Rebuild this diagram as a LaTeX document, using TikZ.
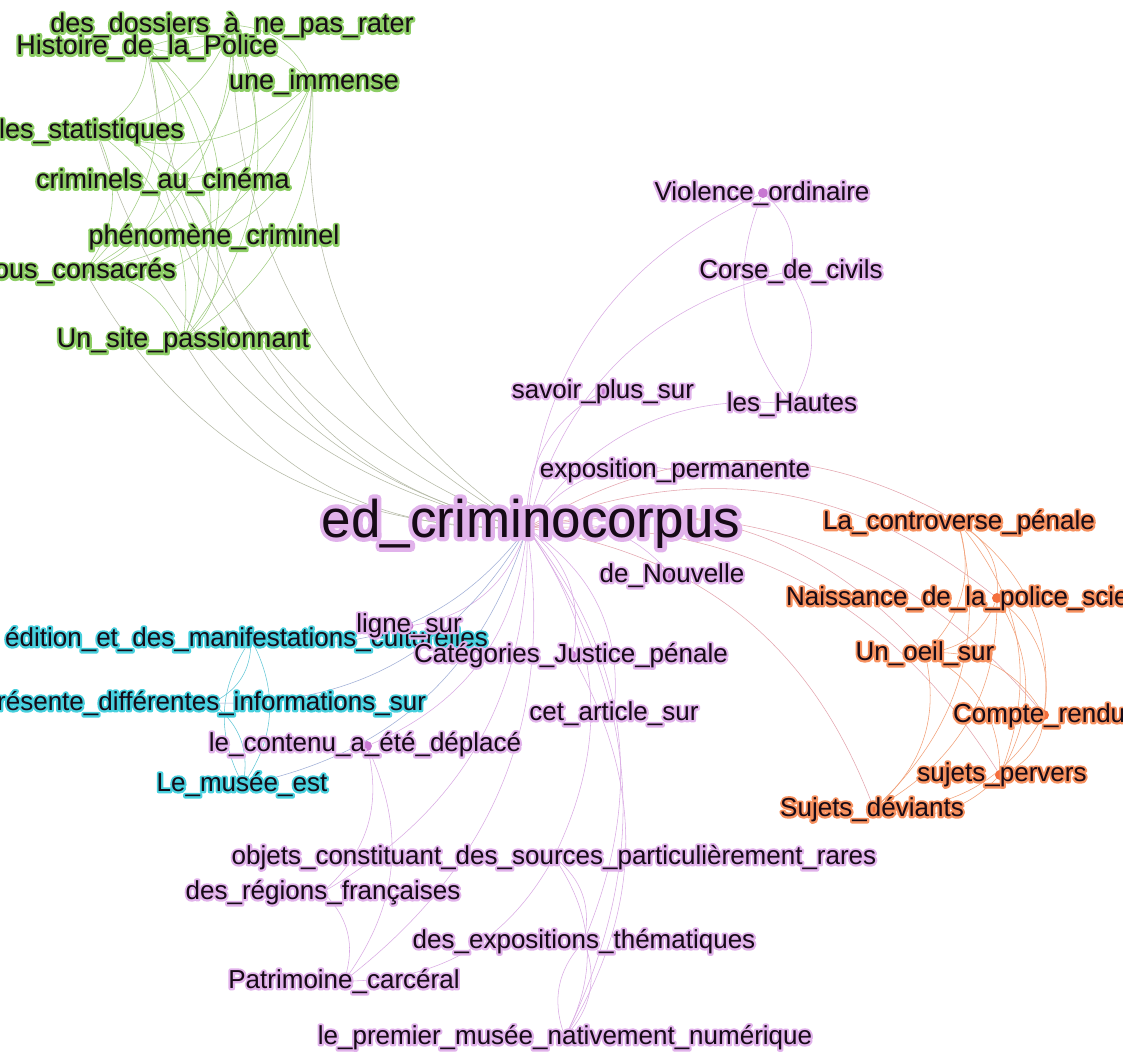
\documentclass[tikz,border=0pt]{standalone}
\usepackage{fontspec}
\setmainfont{Liberation Sans}
\newfontfamily\halofont[FakeBold=16]{Liberation Sans}
\newcommand\hl[2]{\rlap{\halofont\color{#1}#2}#2}
\usetikzlibrary{backgrounds}
\definecolor{txt}{RGB}{22,10,22}
\definecolor{gH}{RGB}{140,205,100}
\definecolor{pH}{RGB}{225,178,235}
\definecolor{oH}{RGB}{247,145,95}
\definecolor{cH}{RGB}{70,208,222}
\definecolor{gD}{RGB}{120,190,80}
\definecolor{pD}{RGB}{200,120,210}
\definecolor{oD}{RGB}{245,110,60}
\definecolor{cD}{RGB}{40,190,210}
\definecolor{gg}{RGB}{160,205,130}
\definecolor{ge}{RGB}{180,185,165}
\definecolor{pp}{RGB}{218,170,228}
\definecolor{po}{RGB}{228,165,175}
\definecolor{oo}{RGB}{242,160,120}
\definecolor{cc}{RGB}{100,200,215}
\definecolor{cp}{RGB}{160,175,215}
\tikzset{
  lab/.style={inner sep=0pt, text height=18.7pt, text depth=0pt, text=txt, font=\fontsize{26}{30}\selectfont},
  glab/.style={lab, text height=19.4pt, font=\fontsize{27}{31}\selectfont},
  blab/.style={lab, text height=38.2pt, font=\fontsize{53}{60}\selectfont},
  vdot/.style={circle, inner sep=0pt, minimum size=#1},
  lnk/.style={line width=0.55pt, draw=#1, bend left=30},
}
\begin{document}
\begin{tikzpicture}[x=1pt,y=-1pt,line join=round]
\useasboundingbox (0,0) rectangle (1123,1053);
\clip (0,0) rectangle (1123,1053);
% ---------- vertices (dots) ----------
\node[vdot=12pt, fill=pD] (ed) at (527,528) {};
\node[vdot=9pt, fill=gD] (gA) at (232,25) {};
\node[vdot=9pt, fill=gD] (gB) at (147,47) {};
\node[vdot=9pt, fill=gD] (gC) at (312,82) {};
\node[vdot=9pt, fill=gD] (gD) at (96,131) {};
\node[vdot=9pt, fill=gD] (gE) at (163,181) {};
\node[vdot=9pt, fill=gD] (gF) at (214,237) {};
\node[vdot=9pt, fill=gD] (gG) at (85,271) {};
\node[vdot=9pt, fill=gD] (gH) at (183,340) {};
\node[vdot=10pt, fill=pD] (pV) at (763,193) {};
\node[vdot=9pt, fill=pD] (pC) at (790,271) {};
\node[vdot=9pt, fill=pD] (pH) at (792,404) {};
\node[vdot=9pt, fill=pD] (pS) at (603,391) {};
\node[vdot=9pt, fill=pD] (pE) at (675,470) {};
\node[vdot=9pt, fill=pD] (pN) at (672,576) {};
\node[vdot=9pt, fill=pD] (pL) at (409,626) {};
\node[vdot=9pt, fill=pD] (pK) at (572,655) {};
\node[vdot=9pt, fill=pD] (pA) at (614,712) {};
\node[vdot=10pt, fill=pD] (pT) at (367,746) {};
\node[vdot=9pt, fill=pD] (pO) at (554,857) {};
\node[vdot=9pt, fill=pD] (pR) at (323,892) {};
\node[vdot=9pt, fill=pD] (pX) at (584,941) {};
\node[vdot=9pt, fill=pD] (pP) at (344,981) {};
\node[vdot=9pt, fill=pD] (pM) at (565,1037) {};
\node[vdot=9pt, fill=cD] (cE) at (251,639) {};
\node[vdot=9pt, fill=cD] (cR) at (212,703) {};
\node[vdot=9pt, fill=cD] (cM) at (243,785) {};
\node[vdot=10pt, fill=oD] (oL) at (958,522) {};
\node[vdot=10pt, fill=oD] (oN) at (997,598) {};
\node[vdot=10pt, fill=oD] (oU) at (925,653) {};
\node[vdot=10pt, fill=oD] (oC) at (1044,715) {};
\node[vdot=10pt, fill=oD] (oP) at (1000,775) {};
\node[vdot=10pt, fill=oD] (oS) at (874,809) {};
% ---------- edges ----------
\begin{scope}[on background layer]
\clip (0,0) rectangle (1123,1053);
\fill[white] (0,0) rectangle (1123,1053);
\foreach \a/\b in {gA/gB,gA/gC,gA/gD,gA/gE,gA/gF,gA/gG,gA/gH,gB/gC,gB/gD,gB/gE,gB/gF,gB/gG,gB/gH,gC/gD,gC/gE,gC/gF,gC/gG,gC/gH,gD/gE,gD/gF,gD/gG,gD/gH,gE/gF,gE/gG,gE/gH,gF/gG,gF/gH,gG/gH}
  \draw[lnk=gg] (\a) to (\b);
\foreach \b in {gA,gB,gC,gD,gE,gF,gG,gH}
  \draw[lnk=ge] (ed) to (\b);
\foreach \b in {pV,pC,pH,pS,pE,pN,pL,pK,pA,pT,pO,pR,pX,pP,pM}
  \draw[lnk=pp] (ed) to (\b);
\foreach \a/\b in {pV/pC,pH/pV,pC/pH,pT/pP,pT/pR,pO/pP,pR/pP,pO/pX,pO/pM,pX/pM,pM/pX,pK/pM}
  \draw[lnk=pp] (\a) to (\b);
\foreach \b in {oL,oN,oU,oC,oP,oS}
  \draw[lnk=po] (ed) to (\b);
\foreach \a/\b in {oL/oN,oL/oU,oL/oC,oL/oP,oL/oS,oN/oU,oN/oC,oN/oP,oN/oS,oU/oC,oU/oP,oU/oS,oC/oP,oC/oS,oP/oS}
  \draw[lnk=oo] (\a) to (\b);
\foreach \b in {cE,cR,cM}
  \draw[lnk=cp] (ed) to (\b);
\foreach \a/\b in {cE/cM,cM/cE,cE/cR,cR/cM}
  \draw[lnk=cc] (\a) to (\b);
\end{scope}
% ---------- labels ----------
\node[glab] (gA-l) at (232,23) {\hl{gH}{des\_dossiers\_à\_ne\_pas\_rater}};
\node[glab] (gB-l) at (147,45) {\hl{gH}{Histoire\_de\_la\_Police}};
\node[glab] (gC-l) at (314,80) {\hl{gH}{une\_immense}};
\node[glab, anchor=west] (gD-l) at (-1,129) {\hl{gH}{les\_statistiques}};
\node[glab] (gE-l) at (163,179) {\hl{gH}{criminels\_au\_cinéma}};
\node[glab] (gF-l) at (214,235) {\hl{gH}{phénomène\_criminel}};
\node[glab, anchor=west] (gG-l) at (-6,269) {\hl{gH}{ous\_consacrés}};
\node[glab] (gH-l) at (183,338) {\hl{gH}{Un\_site\_passionnant}};
\node[lab, anchor=west] (cE-l) at (5,637) {\hl{cH}{édition\_et\_des\_manifestations\_culturelles}};
\node[lab, anchor=west] (cR-l) at (-3,701) {\hl{cH}{résente\_différentes\_informations\_sur}};
\node[lab] (cM-l) at (242,782) {\hl{cH}{Le\_musée\_est}};
\node[blab] (ed-l) at (531,518) {\hl{pH}{ed\_criminocorpus}};
\node[lab] (pV-l) at (762,191) {\hl{pH}{Violence\_ordinaire}};
\node[lab] (pC-l) at (791,269) {\hl{pH}{Corse\_de\_civils}};
\node[lab] (pH-l) at (792,402) {\hl{pH}{les\_Hautes}};
\node[lab] (pS-l) at (603,389) {\hl{pH}{savoir\_plus\_sur}};
\node[lab] (pE-l) at (675,468) {\hl{pH}{exposition\_permanente}};
\node[lab] (pN-l) at (672,573) {\hl{pH}{de\_Nouvelle}};
\node[lab] (pL-l) at (409,623) {\hl{pH}{ligne\_sur}};
\node[lab] (pK-l) at (571,653) {\hl{pH}{Catégories\_Justice\_pénale}};
\node[lab] (pA-l) at (614,711) {\hl{pH}{cet\_article\_sur}};
\node[lab] (pT-l) at (365,742) {\hl{pH}{le\_contenu\_a\_été\_déplacé}};
\node[lab] (pO-l) at (554,855) {\hl{pH}{objets\_constituant\_des\_sources\_particulièrement\_rares}};
\node[lab] (pR-l) at (323,890) {\hl{pH}{des\_régions\_françaises}};
\node[lab] (pX-l) at (584,939) {\hl{pH}{des\_expositions\_thématiques}};
\node[lab] (pP-l) at (344,979) {\hl{pH}{Patrimoine\_carcéral}};
\node[lab] (pM-l) at (565,1035) {\hl{pH}{le\_premier\_musée\_nativement\_numérique}};
\node[lab] (oL-l) at (959,520) {\hl{oH}{La\_controverse\_pénale}};
\node[lab, anchor=west] (oN-l) at (786,596) {\hl{oH}{Naissance\_de\_la\_police\_scientifique}};
\node[lab] (oU-l) at (925,651) {\hl{oH}{Un\_oeil\_sur}};
\node[lab, anchor=west] (oC-l) at (953,713) {\hl{oH}{Compte\_rendu}};
\node[lab] (oP-l) at (1002,772) {\hl{oH}{sujets\_pervers}};
\node[lab] (oS-l) at (872,807) {\hl{oH}{Sujets\_déviants}};
\end{tikzpicture}
\end{document}
